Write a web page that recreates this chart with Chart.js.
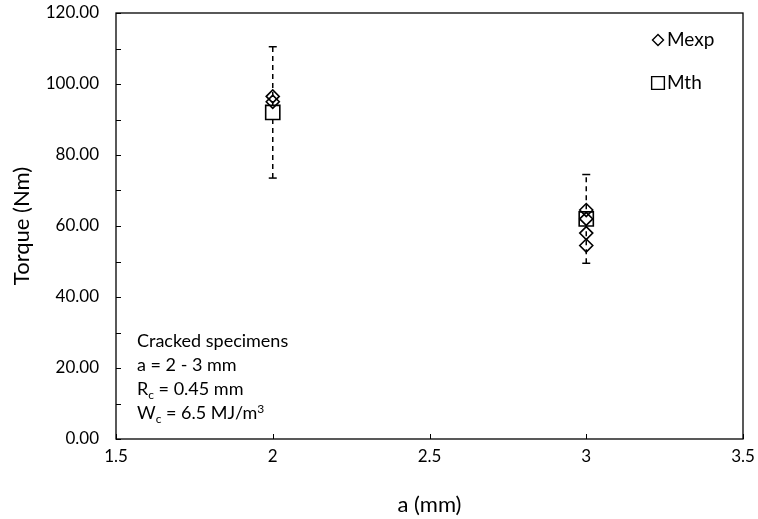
<!DOCTYPE html>
<html>
<head>
<meta charset="utf-8">
<script src="https://cdn.jsdelivr.net/npm/chart.js@4/dist/chart.umd.min.js"></script>
<style>
  html, body { margin: 0; padding: 0; background: #fff; }
  #wrap { width: 758px; height: 519px; }
</style>
</head>
<body>
<div id="wrap"><canvas id="c"></canvas></div>
<script>
// values
const mexpX = [2, 2, 3, 3, 3, 3];
const mexpY = [96.5, 95.0, 64.5, 62.0, 58.0, 54.5];
const mthX = [2, 3];
const mthY = [92.0, 62.0];
const errX = [2, 3];
const errLow = [73.5, 49.5];
const errHigh = [110.5, 74.5];
const notes = ['Cracked specimens', 'a = 2 - 3 mm', 'R|c| = 0.45 mm', 'W|c| = 6.5 MJ/m^3'];

const FONT = 'Lato, "Open Sans", sans-serif';

function pts(xs, ys) {
  return xs.map((x, i) => ({x: x, y: ys[i]}));
}

let datasets = [
  {
    label: 'Mexp',
    data: pts(mexpX, mexpY),
    pointStyle: 'rectRot',
    pointRadius: 6.5,
    pointBorderWidth: 1.6,
    borderColor: '#000',
    pointBackgroundColor: 'rgba(0,0,0,0)',
    showLine: false,
    order: 1
  },
  {
    label: 'Mth',
    data: pts(mthX, mthY),
    pointStyle: 'rect',
    pointRadius: 10,
    pointBorderWidth: 1.6,
    borderColor: '#000',
    pointBackgroundColor: '#fff',
    showLine: false,
    order: 2
  }
];

errX.forEach(function(x, i) {
  datasets.push({
    label: 'err' + i,
    data: [{x: x, y: errLow[i]}, {x: x, y: errHigh[i]}],
    showLine: true,
    borderColor: '#000',
    borderWidth: 1.5,
    borderDash: [5, 4],
    pointStyle: 'line',
    pointRadius: 4,
    pointBorderWidth: 1.5,
    pointBorderColor: '#000',
    order: 3
  });
});

// frame + inward tick marks
const frame = {
  id: 'frame',
  afterDatasetsDraw(chart) {
    let ctx = chart.ctx, a = chart.chartArea;
    let xs = chart.scales.x, ys = chart.scales.y;
    ctx.save();
    ctx.strokeStyle = '#000';
    ctx.lineWidth = 1.3;
    ctx.strokeRect(a.left, a.top, a.right - a.left, a.bottom - a.top);
    ctx.beginPath();
    ys.ticks.forEach(function(t) {
      let y = Math.round(ys.getPixelForValue(t.value)) + 0.5;
      ctx.moveTo(a.left, y);
      ctx.lineTo(a.left + 5, y);
    });
    xs.ticks.forEach(function(t) {
      let x = Math.round(xs.getPixelForValue(t.value)) + 0.5;
      ctx.moveTo(x, a.bottom);
      ctx.lineTo(x, a.bottom - 5);
    });
    ctx.lineWidth = 1;
    ctx.stroke();
    ctx.restore();
  }
};

// legend in top right and the note block
const extras = {
  id: 'extras',
  afterDraw(chart) {
    let ctx = chart.ctx;
    ctx.save();
    ctx.strokeStyle = '#000';
    ctx.fillStyle = '#fff';
    ctx.lineWidth = 1.4;
    Chart.helpers.drawPoint(ctx, {pointStyle: 'rectRot', radius: 5.5, rotation: 0, borderWidth: 1.4}, 658, 40);
    ctx.fillStyle = '#fff';
    Chart.helpers.drawPoint(ctx, {pointStyle: 'rect', radius: 9, rotation: 0, borderWidth: 1.4}, 658, 83);
    ctx.fillStyle = '#000';
    ctx.font = '19px ' + FONT;
    ctx.textBaseline = 'middle';
    ctx.textAlign = 'left';
    ctx.fillText('Mexp', 667, 40);
    ctx.fillText('Mth', 667, 83);

    // notes, "|x|" is a subscript, "^x" a superscript
    ctx.textBaseline = 'alphabetic';
    let y0 = 347;
    notes.forEach(function(line, i) {
      let x = 137, y = y0 + i * 24;
      let parts = line.split(/(\|[^|]*\||\^.)/);
      parts.forEach(function(p) {
        if (!p) return;
        if (p[0] === '|') {
          ctx.font = '12px ' + FONT;
          ctx.fillText(p.slice(1, -1), x, y + 4);
          x += ctx.measureText(p.slice(1, -1)).width;
        } else if (p[0] === '^') {
          ctx.font = '12px ' + FONT;
          ctx.fillText(p.slice(1), x, y - 6);
          x += ctx.measureText(p.slice(1)).width;
        } else {
          ctx.font = '18px ' + FONT;
          ctx.fillText(p, x, y);
          x += ctx.measureText(p).width;
        }
      });
    });
    ctx.restore();
  }
};

new Chart(document.getElementById('c'), {
  type: 'scatter',
  data: { datasets: datasets },
  options: {
    responsive: true,
    maintainAspectRatio: false,
    animation: false,
    layout: { padding: 0 },
    scales: {
      x: {
        type: 'linear',
        min: 1.5,
        max: 3.5,
        afterFit: function(s) { s.height = 80; s.paddingRight = 15; s.paddingLeft = 0; },
        border: { display: false },
        grid: { display: false, drawTicks: false },
        ticks: {
          stepSize: 0.5,
          padding: 7,
          color: '#000',
          font: { family: FONT, size: 17 },
          callback: function(v) { return String(v); }
        },
        title: {
          display: true,
          text: 'a (mm)',
          color: '#000',
          font: { family: FONT, size: 22 },
          padding: { top: 0, bottom: 1 }
        }
      },
      y: {
        min: 0,
        max: 120,
        afterFit: function(s) { s.width = 116; s.paddingTop = 13; s.paddingBottom = 0; },
        border: { display: false },
        grid: { display: false, drawTicks: false },
        ticks: {
          stepSize: 10,
          autoSkip: false,
          padding: 17,
          color: '#000',
          font: { family: FONT, size: 17 },
          callback: function(v) { return v % 20 === 0 ? v.toFixed(2) : ''; }
        },
        title: {
          display: true,
          text: 'Torque (Nm)',
          color: '#000',
          font: { family: FONT, size: 22 },
          padding: { top: 9, bottom: 0 }
        }
      }
    },
    plugins: {
      legend: { display: false },
      tooltip: { enabled: false }
    }
  },
  plugins: [frame, extras]
});
</script>
</body>
</html>
